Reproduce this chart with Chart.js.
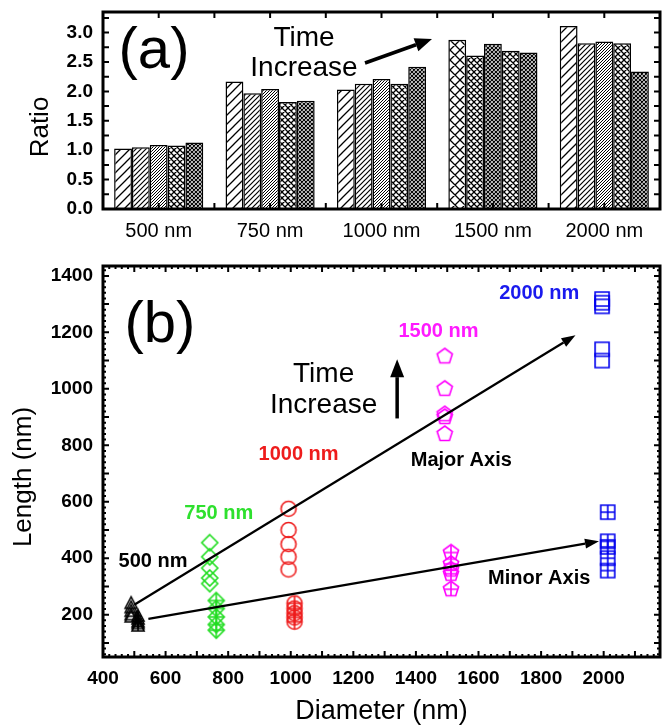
<!DOCTYPE html>
<html>
<head>
<meta charset="utf-8">
<script src="https://cdn.jsdelivr.net/npm/chart.js@4.4.0/dist/chart.umd.min.js"></script>
<style>
  html, body { margin: 0; padding: 0; background: #fff; }
  .wrap { position: relative; width: 671px; height: 726px; }
  #barBox { position: absolute; left: 0; top: 0; width: 671px; height: 250px; }
  #scatterBox { position: absolute; left: 0; top: 250px; width: 671px; height: 476px; }
</style>
</head>
<body>
<div class="wrap">
  <div id="barBox"><canvas id="barChart"></canvas></div>
  <div id="scatterBox"><canvas id="scatterChart"></canvas></div>
</div>
<script>
// === Data: panel (a), ratio per diameter, 5 time steps ===
const sizeLabels = ['500 nm', '750 nm', '1000 nm', '1500 nm', '2000 nm'];
const ratioT1 = [1.03, 2.17, 2.03, 2.88, 3.11];
const ratioT2 = [1.05, 1.97, 2.13, 2.61, 2.82];
const ratioT3 = [1.09, 2.04, 2.21, 2.81, 2.85];
const ratioT4 = [1.08, 1.82, 2.13, 2.69, 2.82];
const ratioT5 = [1.13, 1.84, 2.42, 2.66, 2.34];
const ratioTicks = [0, 0.5, 1.0, 1.5, 2.0, 2.5, 3.0];

// === Data: panel (b), length vs diameter ===
const majorX = [490, 741, 993, 1492, 1995];
const minorX = [512, 762, 1012, 1512, 2013];
const major500 = [240, 225, 212, 200, 192];
const minor500 = [195, 185, 175, 168, 160];
const major750 = [455, 405, 365, 330, 310];
const minor750 = [250, 222, 192, 165, 145];
const major1000 = [575, 500, 450, 405, 360];
const minor1000 = [240, 222, 205, 190, 175];
const major1500 = [1115, 1000, 910, 900, 840];
const minor1500 = [420, 380, 360, 345, 290];
const major2000 = [1318, 1305, 1292, 1140, 1100];
const minor2000 = [563, 460, 440, 400, 356];
const lengthTicks = [200, 400, 600, 800, 1000, 1200, 1400];
const diameterTicks = [400, 600, 800, 1000, 1200, 1400, 1600, 1800, 2000];

Chart.defaults.font.family = '"Liberation Sans", Arial, sans-serif';
Chart.defaults.color = '#000';

// === Hatch patterns for the bars ===
const barCtx = document.getElementById('barChart').getContext('2d');
function hatch(s, cross, lw) {
  const c = document.createElement('canvas');
  c.width = s; c.height = s;
  const g = c.getContext('2d');
  g.fillStyle = '#fff';
  g.fillRect(0, 0, s, s);
  g.strokeStyle = '#000';
  g.lineWidth = lw;
  g.beginPath();
  g.moveTo(-1, s + 1); g.lineTo(s + 1, -1);
  g.moveTo(-1, 1); g.lineTo(1, -1);
  g.moveTo(s - 1, s + 1); g.lineTo(s + 1, s - 1);
  if (cross) {
    g.moveTo(-1, -1); g.lineTo(s + 1, s + 1);
    g.moveTo(s - 1, -1); g.lineTo(s + 1, 1);
    g.moveTo(-1, s - 1); g.lineTo(1, s + 1);
  }
  g.stroke();
  return barCtx.createPattern(c, 'repeat');
}
const pat = {
  A: hatch(9, false, 1.3),
  B: hatch(5, false, 1.2),
  C: hatch(3, false, 1.0),
  D: hatch(6, true, 1.3),
  E: hatch(4, true, 1.2),
  F: hatch(10, true, 1.3)
};
function patternFor(i, j) {
  if (i === 3) return [pat.F, pat.D, pat.E, pat.D, pat.E][j];
  return [pat.A, pat.B, pat.C, pat.D, pat.E][j];
}

// === Markers for the scatter ===
function marker(shape, color, cross) {
  const S = 22;
  const c = document.createElement('canvas');
  c.width = S; c.height = S;
  const g = c.getContext('2d');
  g.translate(S / 2, S / 2);
  g.strokeStyle = color;
  g.lineWidth = 1.6;
  const path = () => {
    g.beginPath();
    if (shape === 'triangle') {
      g.moveTo(0, -6.5); g.lineTo(6, 5); g.lineTo(-6, 5); g.closePath();
    } else if (shape === 'diamond') {
      g.moveTo(0, -8); g.lineTo(8, 0); g.lineTo(0, 8); g.lineTo(-8, 0); g.closePath();
    } else if (shape === 'circle') {
      g.arc(0, 0, 7.5, 0, Math.PI * 2);
    } else if (shape === 'pentagon') {
      for (let k = 0; k < 5; k++) {
        const a = -Math.PI / 2 + k * 2 * Math.PI / 5;
        const px = 8 * Math.cos(a), py = 8 * Math.sin(a);
        k ? g.lineTo(px, py) : g.moveTo(px, py);
      }
      g.closePath();
    } else {
      g.rect(-7, -7, 14, 14);
    }
  };
  path();
  g.stroke();
  if (cross) {
    g.save();
    path();
    g.clip();
    g.beginPath();
    g.moveTo(-9, 0); g.lineTo(9, 0);
    g.moveTo(0, -9); g.lineTo(0, 9);
    g.stroke();
    g.restore();
  }
  return c;
}

const black = '#000000', green = '#22dd22', red = '#ee1c1c', magenta = '#ff00ff', blue = '#0000ee';
const scatterSeries = [
  { x: majorX[0], ys: major500, shape: 'triangle', color: black, cross: false },
  { x: minorX[0], ys: minor500, shape: 'triangle', color: black, cross: true },
  { x: majorX[1], ys: major750, shape: 'diamond', color: green, cross: false },
  { x: minorX[1], ys: minor750, shape: 'diamond', color: green, cross: true },
  { x: majorX[2], ys: major1000, shape: 'circle', color: red, cross: false },
  { x: minorX[2], ys: minor1000, shape: 'circle', color: red, cross: true },
  { x: majorX[3], ys: major1500, shape: 'pentagon', color: magenta, cross: false },
  { x: minorX[3], ys: minor1500, shape: 'pentagon', color: magenta, cross: true },
  { x: majorX[4], ys: major2000, shape: 'square', color: blue, cross: false },
  { x: minorX[4], ys: minor2000, shape: 'square', color: blue, cross: true }
];

// === Plugin: thick frame with inward ticks ===
const framePlugin = {
  id: 'frame',
  afterDraw(chart, args, opts) {
    const { ctx, chartArea: a } = chart;
    ctx.save();
    ctx.strokeStyle = '#000';
    ctx.lineWidth = 2;
    ctx.beginPath();
    opts.xTicks(chart).forEach(([px, len]) => {
      ctx.moveTo(px, a.bottom); ctx.lineTo(px, a.bottom - len);
      ctx.moveTo(px, a.top); ctx.lineTo(px, a.top + len);
    });
    opts.yTicks(chart).forEach(([py, len]) => {
      ctx.moveTo(a.left, py); ctx.lineTo(a.left + len, py);
      ctx.moveTo(a.right, py); ctx.lineTo(a.right - len, py);
    });
    ctx.stroke();
    ctx.lineWidth = 3;
    ctx.strokeRect(a.left, a.top, a.right - a.left, a.bottom - a.top);
    ctx.restore();
  }
};

// === Plugin: free text and arrows ===
function arrow(ctx, x1, y1, x2, y2, lw, hl, hw) {
  const ang = Math.atan2(y2 - y1, x2 - x1);
  const bx = x2 - hl * Math.cos(ang), by = y2 - hl * Math.sin(ang);
  ctx.lineWidth = lw;
  ctx.beginPath();
  ctx.moveTo(x1, y1); ctx.lineTo(bx, by);
  ctx.stroke();
  ctx.beginPath();
  ctx.moveTo(x2, y2);
  ctx.lineTo(bx + hw / 2 * Math.sin(ang), by - hw / 2 * Math.cos(ang));
  ctx.lineTo(bx - hw / 2 * Math.sin(ang), by + hw / 2 * Math.cos(ang));
  ctx.closePath();
  ctx.fill();
}
const notesPlugin = {
  id: 'notes',
  afterDatasetsDraw(chart, args, opts) {
    const { ctx, scales } = chart;
    const pos = (p) => opts.data
      ? [scales.x.getPixelForValue(p[0]), scales.y.getPixelForValue(p[1])]
      : p;
    ctx.save();
    ctx.fillStyle = '#000';
    ctx.strokeStyle = '#000';
    (opts.arrows || []).forEach(ar => {
      const [x1, y1] = pos(ar.from), [x2, y2] = pos(ar.to);
      arrow(ctx, x1, y1, x2, y2, ar.lw, ar.hl, ar.hw);
    });
    ctx.textAlign = 'center';
    ctx.textBaseline = 'middle';
    (opts.texts || []).forEach(t => {
      const [x, y] = pos(t.at);
      ctx.font = t.font;
      ctx.fillStyle = t.color || '#000';
      ctx.fillText(t.text, x, y);
    });
    ctx.restore();
  },
  afterDraw(chart, args, opts) {
    if (!opts.yTitle) return;
    const { ctx } = chart;
    ctx.save();
    ctx.translate(opts.yTitle.at[0], opts.yTitle.at[1]);
    ctx.rotate(-Math.PI / 2);
    ctx.font = opts.yTitle.font;
    ctx.fillStyle = '#000';
    ctx.textAlign = 'center';
    ctx.textBaseline = 'middle';
    ctx.fillText(opts.yTitle.text, 0, 0);
    ctx.restore();
  }
};

// keep the plot box exactly where the layout padding puts it
function noEdgePadding(s) {
  s.paddingTop = 0; s.paddingBottom = 0;
  s.paddingLeft = 0; s.paddingRight = 0;
}

// === Panel (a): bar chart ===
new Chart(barCtx, {
  type: 'bar',
  data: {
    labels: sizeLabels,
    datasets: [ratioT1, ratioT2, ratioT3, ratioT4, ratioT5].map((vals, j) => ({
      data: vals,
      backgroundColor: sizeLabels.map((_, i) => patternFor(i, j)),
      borderColor: '#000',
      borderWidth: 1.5,
      categoryPercentage: 0.8,
      barPercentage: 1.0
    }))
  },
  options: {
    responsive: true,
    maintainAspectRatio: false,
    animation: false,
    events: [],
    layout: { padding: { top: 12, right: 11, left: 0, bottom: 0 } },
    scales: {
      x: {
        grid: { display: false, drawTicks: false },
        border: { display: false },
        ticks: { font: { size: 20 }, padding: 10 },
        afterFit(s) { s.height = 41; noEdgePadding(s); }
      },
      y: {
        min: 0,
        max: 3.35,
        grid: { display: false, drawTicks: false },
        border: { display: false },
        ticks: { font: { size: 19, weight: 'bold' }, padding: 10, callback: v => v.toFixed(1) },
        afterBuildTicks(s) { s.ticks = ratioTicks.map(v => ({ value: v })); },
        afterFit(s) { s.width = 103; noEdgePadding(s); }
      }
    },
    plugins: {
      legend: { display: false },
      tooltip: { enabled: false },
      frame: {
        xTicks: (c) => {
          const out = [];
          for (let i = -0.5; i <= 4.5; i += 0.5) out.push([c.scales.x.getPixelForValue(i), 6]);
          return out;
        },
        yTicks: (c) => {
          const out = [];
          for (let v = 0.25; v <= 3.25; v += 0.25) out.push([c.scales.y.getPixelForValue(v), 6]);
          return out;
        }
      },
      notes: {
        data: false,
        texts: [
          { text: '(a)', at: [154, 52], font: '58px "Liberation Sans", Arial, sans-serif' },
          { text: 'Time', at: [304, 38], font: '28px "Liberation Sans", Arial, sans-serif' },
          { text: 'Increase', at: [304, 68], font: '28px "Liberation Sans", Arial, sans-serif' }
        ],
        arrows: [{ from: [365, 63], to: [432, 39], lw: 3.5, hl: 17, hw: 14 }],
        yTitle: { text: 'Ratio', at: [41, 127], font: '26px "Liberation Sans", Arial, sans-serif' }
      }
    }
  },
  plugins: [framePlugin, notesPlugin]
});

// === Panel (b): scatter chart ===
const bold20 = 'bold 20px "Liberation Sans", Arial, sans-serif';
new Chart(document.getElementById('scatterChart'), {
  type: 'scatter',
  data: {
    datasets: scatterSeries.map(s => ({
      data: s.ys.map(y => ({ x: s.x, y })),
      pointStyle: marker(s.shape, s.color, s.cross),
      pointRadius: 8,
      borderColor: s.color,
      backgroundColor: 'transparent'
    }))
  },
  options: {
    responsive: true,
    maintainAspectRatio: false,
    animation: false,
    events: [],
    layout: { padding: { top: 16, right: 11, left: 0, bottom: 0 } },
    scales: {
      x: {
        type: 'linear',
        min: 400,
        max: 2180,
        grid: { display: false, drawTicks: false },
        border: { display: false },
        ticks: { font: { size: 19, weight: 'bold' }, padding: 10, callback: v => String(v) },
        afterBuildTicks(s) { s.ticks = diameterTicks.map(v => ({ value: v })); },
        title: {
          display: true,
          text: 'Diameter (nm)',
          font: { size: 27, lineHeight: 1.0 },
          padding: { top: 0, bottom: 1 }
        },
        afterFit(s) { s.height = 69; noEdgePadding(s); }
      },
      y: {
        min: 50,
        max: 1435,
        grid: { display: false, drawTicks: false },
        border: { display: false },
        ticks: { font: { size: 19, weight: 'bold' }, padding: 10, callback: v => String(v) },
        afterBuildTicks(s) { s.ticks = lengthTicks.map(v => ({ value: v })); },
        afterFit(s) { s.width = 103; noEdgePadding(s); }
      }
    },
    plugins: {
      legend: { display: false },
      tooltip: { enabled: false },
      frame: {
        xTicks: (c) => {
          const out = [];
          for (let v = 420; v < 2180; v += 20) out.push([c.scales.x.getPixelForValue(v), v % 100 === 0 ? 6 : 3]);
          return out;
        },
        yTicks: (c) => {
          const out = [];
          for (let v = 60; v < 1435; v += 20) out.push([c.scales.y.getPixelForValue(v), v % 100 === 0 ? 6 : 3]);
          return out;
        }
      },
      notes: {
        data: true,
        texts: [
          { text: '(b)', at: [582, 1223], font: '58px "Liberation Sans", Arial, sans-serif' },
          { text: 'Time', at: [1105, 1053], font: '28px "Liberation Sans", Arial, sans-serif' },
          { text: 'Increase', at: [1105, 943], font: '28px "Liberation Sans", Arial, sans-serif' },
          { text: '2000 nm', at: [1794, 1336], font: bold20, color: '#1a1aee' },
          { text: '1500 nm', at: [1472, 1202], font: bold20, color: '#ff1aff' },
          { text: '1000 nm', at: [1025, 766], font: bold20, color: '#ee1c1c' },
          { text: 'Major Axis', at: [1545, 745], font: bold20 },
          { text: '750 nm', at: [770, 557], font: bold20, color: '#2ee02e' },
          { text: '500 nm', at: [560, 388], font: bold20 },
          { text: 'Minor Axis', at: [1794, 327], font: bold20 }
        ],
        arrows: [
          { from: [500, 235], to: [1910, 1190], lw: 2.2, hl: 14, hw: 10 },
          { from: [545, 185], to: [1985, 460], lw: 2.2, hl: 14, hw: 10 },
          { from: [1340, 895], to: [1340, 1105], lw: 3.5, hl: 18, hw: 14 }
        ],
        yTitle: { text: 'Length (nm)', at: [24, 227], font: '26px "Liberation Sans", Arial, sans-serif' }
      }
    }
  },
  plugins: [framePlugin, notesPlugin]
});
</script>
</body>
</html>
